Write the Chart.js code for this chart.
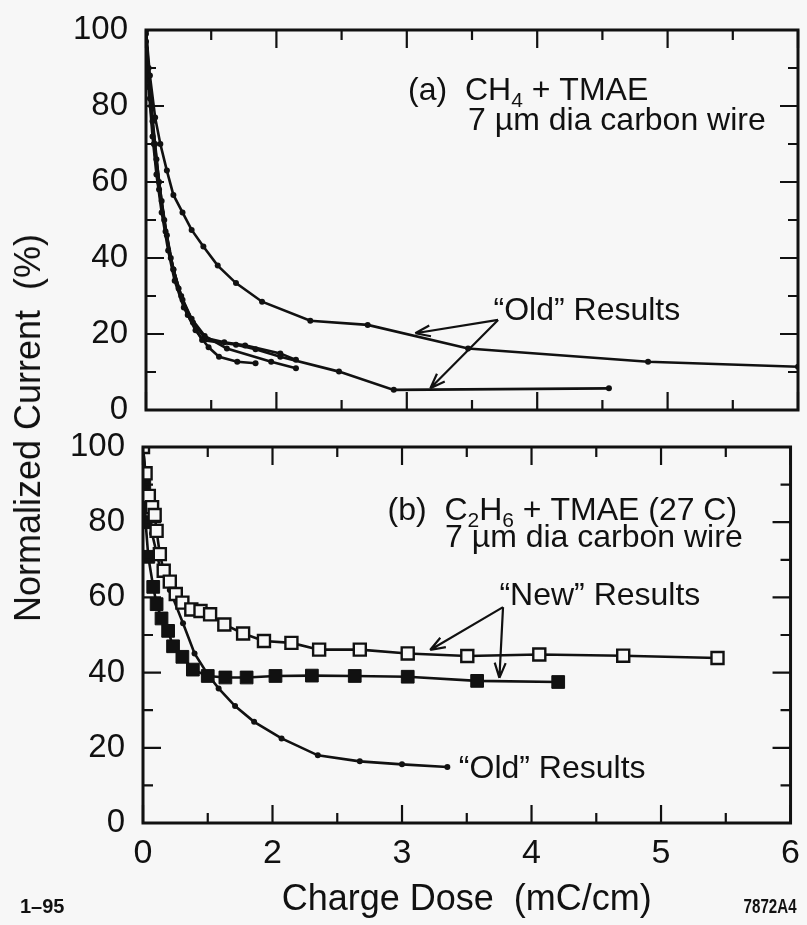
<!DOCTYPE html>
<html>
<head>
<meta charset="utf-8">
<script src="https://cdn.jsdelivr.net/npm/chart.js@4.4.1/dist/chart.umd.min.js"></script>
<style>
  body { margin: 0; background: #f7f7f7; overflow: hidden; }
  #wrap { position: relative; width: 807px; height: 925px; overflow: hidden; font-family: 'Liberation Sans', Arial, sans-serif; color: #111; }
  canvas { position: absolute; left: 0; }
  #topChart { top: 0; }
  #bottomChart { top: 430px; }
  .ytitle { position: absolute; left: 28px; top: 428px; transform: translate(-50%, -50%) rotate(-90deg); font-size: 36px; white-space: pre; }
  .note { position: absolute; top: 896px; font-weight: bold; font-size: 20px; line-height: 20px; }
  .code { right: 10px; font-size: 21px; transform: scaleX(0.72); transform-origin: right center; }
</style>
</head>
<body>
<div id="wrap">
  <canvas id="topChart" width="807" height="430"></canvas>
  <canvas id="bottomChart" width="810" height="495"></canvas>
  <div class="ytitle">Normalized Current  (%)</div>
  <div class="note" style="left:20px;">1–95</div>
  <div class="note code">7872A4</div>
</div>
<script>
// x values are in axis units: the left edge is 1, its label reads "0"
// (a) CH4 + TMAE
const oldUpperX = [1.0, 1.03, 1.07, 1.11, 1.16, 1.21, 1.28, 1.35, 1.44, 1.55, 1.69, 1.89, 2.26, 2.70, 3.47, 4.85, 6.0];
const oldUpperY = [100, 88, 77, 70, 63, 56.6, 52.0, 47.4, 43.0, 38.0, 33.4, 28.5, 23.5, 22.4, 16.2, 12.7, 11.4];
const oldLowerX = [1.0, 1.02, 1.04, 1.07, 1.10, 1.14, 1.19, 1.25, 1.32, 1.43, 1.69, 1.84, 2.03, 2.48, 2.90, 4.55];
const oldLowerY = [100, 90, 80, 70, 60, 50, 40, 32, 25, 18.4, 17.2, 16.0, 14.0, 10.1, 5.3, 5.7];
const runAX = [1.0, 1.02, 1.05, 1.08, 1.12, 1.17, 1.22, 1.29, 1.38, 1.48, 1.56, 1.70, 1.84];
const runAY = [97, 85, 72, 62, 52, 42, 34, 27, 21, 16.5, 14.0, 12.7, 12.3];
const runBX = [1.0, 1.03, 1.06, 1.10, 1.15, 1.21, 1.28, 1.36, 1.45, 1.60, 1.76, 2.03, 2.15];
const runBY = [95, 82, 70, 58, 47, 37, 29, 23, 19, 17.8, 17.0, 14.9, 13.2];
const runCX = [1.0, 1.02, 1.05, 1.08, 1.12, 1.16, 1.21, 1.27, 1.35, 1.45, 1.62, 1.96, 2.15];
const runCY = [99, 88, 76, 66, 55, 46, 37, 30, 24, 19.5, 16.2, 12.7, 11.0];

// (b) C2H6 + TMAE (27 C)
const newOpenX = [1.0, 1.02, 1.045, 1.07, 1.09, 1.105, 1.13, 1.16, 1.207, 1.253, 1.304, 1.373, 1.444, 1.518, 1.628, 1.773, 1.934, 2.146, 2.36, 2.674, 3.044, 3.504, 4.06, 4.708, 5.436];
const newOpenY = [100, 93, 87, 84, 81.9, 77.7, 71.5, 67.1, 64.2, 60.9, 58.6, 56.8, 56.4, 55.5, 52.8, 50.4, 48.4, 47.9, 46.1, 46.1, 45.1, 44.4, 44.8, 44.5, 43.9];
const newFilledX = [1.0, 1.01, 1.02, 1.041, 1.079, 1.105, 1.143, 1.194, 1.232, 1.304, 1.385, 1.5, 1.636, 1.8, 2.023, 2.304, 2.635, 3.044, 3.58, 4.206];
const newFilledY = [100, 90, 80, 70.8, 62.8, 58.2, 54.4, 51.1, 47.0, 44.2, 40.8, 39.1, 38.7, 38.7, 39.1, 39.2, 39.1, 38.9, 37.8, 37.5];
const oldBX = [1.0, 1.03, 1.07, 1.13, 1.207, 1.309, 1.398, 1.5, 1.584, 1.711, 1.858, 2.07, 2.35, 2.674, 3.0, 3.35];
const oldBY = [100, 88, 77, 68.1, 62.0, 53.1, 45.1, 39.5, 35.8, 31.1, 26.9, 22.5, 18.0, 16.4, 15.6, 14.9];

const xMin = 1, xMax = 6, xStep = 0.5;
const yMin = 0, yMax = 100, yStep = 10;

const INK = '#111';
Chart.defaults.font.family = "'Liberation Sans', Arial, sans-serif";
Chart.defaults.color = INK;

function pts(xs, ys) {
  return xs.map((x, i) => ({ x: x, y: ys[i] }));
}

function dotted(xs, ys) {
  return { data: pts(xs, ys), borderColor: INK, borderWidth: 2.6, pointRadius: 3,
    pointStyle: 'circle', pointBackgroundColor: INK, pointBorderWidth: 0, tension: 0 };
}

// frame with inward ticks on all four sides
const frameTicks = {
  id: 'frameTicks',
  afterDraw(chart) {
    const { ctx, chartArea: a, scales: { x, y } } = chart;
    ctx.save();
    ctx.strokeStyle = INK;
    ctx.lineWidth = 2.2;
    ctx.beginPath();
    x.ticks.forEach(t => {
      const px = x.getPixelForValue(t.value);
      const len = Number.isInteger(t.value) ? 18 : 10;
      ctx.moveTo(px, a.bottom); ctx.lineTo(px, a.bottom - len);
      ctx.moveTo(px, a.top); ctx.lineTo(px, a.top + len);
    });
    y.ticks.forEach(t => {
      const py = y.getPixelForValue(t.value);
      const len = t.value % 20 === 0 ? 18 : 10;
      ctx.moveTo(a.left, py); ctx.lineTo(a.left + len, py);
      ctx.moveTo(a.right, py); ctx.lineTo(a.right - len, py);
    });
    ctx.stroke();
    ctx.lineWidth = 3;
    ctx.strokeRect(a.left, a.top, a.right - a.left, a.bottom - a.top);
    ctx.restore();
  }
};

// text labels and arrows, placed in data units
const notes = {
  id: 'notes',
  afterDraw(chart, args, opts) {
    const { ctx, scales: { x, y } } = chart;
    ctx.save();
    ctx.fillStyle = INK;
    ctx.strokeStyle = INK;
    ctx.textBaseline = 'alphabetic';
    (opts.texts || []).forEach(n => {
      let px = x.getPixelForValue(n.x);
      const py = y.getPixelForValue(n.y);
      n.parts.forEach(p => {
        const sub = Array.isArray(p);
        const s = sub ? p[0] : p;
        ctx.font = (sub ? 21 : 32) + "px 'Liberation Sans', Arial, sans-serif";
        ctx.fillText(s, px, py + (sub ? 7 : 0));
        px += ctx.measureText(s).width;
      });
    });
    ctx.lineWidth = 2.2;
    (opts.arrows || []).forEach(ar => {
      const x0 = x.getPixelForValue(ar.from[0]), y0 = y.getPixelForValue(ar.from[1]);
      const x1 = x.getPixelForValue(ar.to[0]), y1 = y.getPixelForValue(ar.to[1]);
      const ang = Math.atan2(y1 - y0, x1 - x0);
      ctx.beginPath();
      ctx.moveTo(x0, y0); ctx.lineTo(x1, y1);
      [-0.35, 0.35].forEach(d => {
        ctx.moveTo(x1, y1);
        ctx.lineTo(x1 - 16 * Math.cos(ang + d), y1 - 16 * Math.sin(ang + d));
      });
      ctx.stroke();
    });
    ctx.restore();
  }
};

function yAxis(width) {
  return {
    type: 'linear', min: yMin, max: yMax,
    // invisible tick marks keep the labels off the frame without adding vertical padding
    grid: { display: true, drawOnChartArea: false, drawTicks: true, tickLength: 18, color: 'rgba(0,0,0,0)' },
    border: { display: false },
    ticks: { stepSize: yStep, autoSkip: false, padding: 0, font: { size: 33, lineHeight: 1 },
      callback: v => v % 20 === 0 ? v : '' },
    afterFit: s => { s.width = width; }
  };
}

function xAxis(height, showLabels) {
  return {
    type: 'linear', min: xMin, max: xMax,
    grid: { display: false, drawTicks: false }, border: { display: false },
    ticks: { display: showLabels, stepSize: xStep, autoSkip: false, maxRotation: 0, padding: 10,
      font: { size: 34 },
      callback: v => v === xMin ? '0' : (Number.isInteger(v) ? v : '') },
    title: { display: showLabels, text: 'Charge Dose  (mC/cm)', font: { size: 36 },
      padding: { top: 0, bottom: 3 } },
    afterFit: s => { s.height = height; }
  };
}

const common = {
  responsive: false,
  animation: false,
  events: [],
  plugins: { legend: { display: false }, tooltip: { enabled: false } }
};

new Chart(document.getElementById('topChart'), {
  type: 'line',
  data: {
    datasets: [
      dotted(oldUpperX, oldUpperY),
      dotted(oldLowerX, oldLowerY),
      dotted(runAX, runAY),
      dotted(runBX, runBY),
      dotted(runCX, runCY)
    ]
  },
  options: Object.assign({}, common, {
    layout: { padding: { left: 0, right: 9, top: 30, bottom: 0 } },
    scales: { x: xAxis(20, false), y: yAxis(146) },
    plugins: Object.assign({}, common.plugins, {
      notes: {
        texts: [
          { x: 3.01, y: 81.6, parts: ['(a)  CH', ['4'], ' + TMAE'] },
          { x: 3.47, y: 73.7, parts: ['7 µm dia carbon wire'] },
          { x: 3.665, y: 23.7, parts: ['“Old” Results'] }
        ],
        arrows: [
          { from: [3.70, 23.7], to: [3.065, 20.2] },
          { from: [3.70, 23.7], to: [3.18, 5.7] }
        ]
      }
    })
  }),
  plugins: [frameTicks, notes]
});

new Chart(document.getElementById('bottomChart'), {
  type: 'line',
  data: {
    datasets: [
      { data: pts(newOpenX, newOpenY), borderColor: INK, borderWidth: 2.6, tension: 0,
        pointStyle: 'rect', pointRadius: 8.5, pointBackgroundColor: '#f7f7f7',
        pointBorderColor: INK, pointBorderWidth: 2.4 },
      { data: pts(newFilledX, newFilledY), borderColor: INK, borderWidth: 2.6, tension: 0,
        pointStyle: 'rect', pointRadius: 9, pointBackgroundColor: INK,
        pointBorderColor: INK, pointBorderWidth: 1 },
      dotted(oldBX, oldBY)
    ]
  },
  options: Object.assign({}, common, {
    layout: { padding: { left: 0, right: 0, top: 17, bottom: 0 } },
    scales: { x: xAxis(102, true), y: yAxis(143) },
    plugins: Object.assign({}, common.plugins, {
      notes: {
        texts: [
          { x: 2.888, y: 80.6, parts: ['(b)  C', ['2'], 'H', ['6'], ' + TMAE (27 C)'] },
          { x: 3.332, y: 73.4, parts: ['7 µm dia carbon wire'] },
          { x: 3.752, y: 58.0, parts: ['“New” Results'] },
          { x: 3.439, y: 12.0, parts: ['“Old” Results'] }
        ],
        arrows: [
          { from: [3.78, 57.4], to: [3.217, 46.0] },
          { from: [3.78, 57.4], to: [3.752, 38.6] }
        ]
      }
    })
  }),
  plugins: [frameTicks, notes]
});
</script>
</body>
</html>
